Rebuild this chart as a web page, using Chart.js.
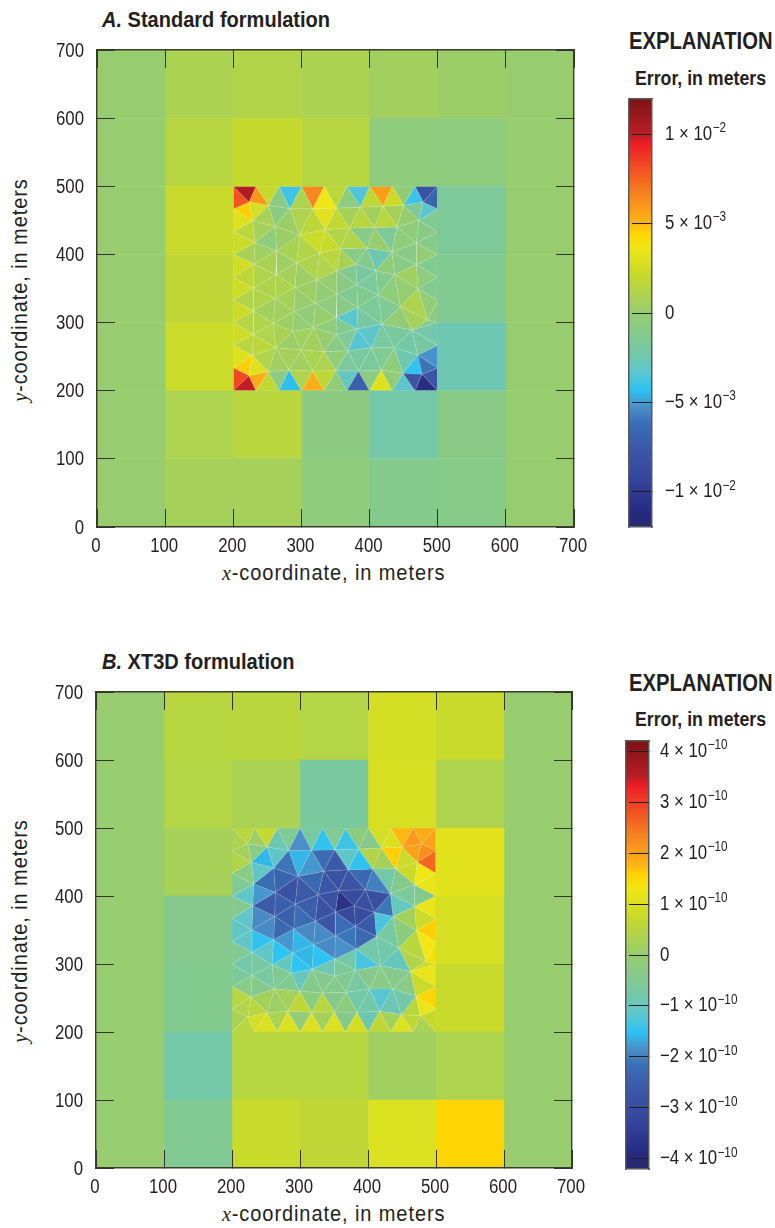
<!DOCTYPE html>
<html>
<head>
<meta charset="utf-8">
<title>Error maps</title>
<script src="https://cdn.jsdelivr.net/npm/chart.js@4/dist/chart.umd.min.js"></script>
<style>
  html, body { margin: 0; padding: 0; background: #fff; }
  body { position: relative; width: 775px; height: 1228px; overflow: hidden; font-family: "Liberation Sans", sans-serif; color: #231f20; }
  canvas { position: absolute; }
  .t { position: absolute; white-space: nowrap; line-height: 1; transform-origin: left center; }
  .title { font-size: 22px; font-weight: bold; transform: scaleX(0.91); }
  .head { font-size: 23px; font-weight: bold; transform: scaleX(0.88); }
  .sub { font-size: 20px; font-weight: bold; transform: scaleX(0.886); }
  .ax { font-size: 22px; letter-spacing: 1px; transform: scaleX(0.91); }
  .ay { font-size: 22px; letter-spacing: 1px; transform-origin: center center; transform: translate(-50%,-50%) rotate(-90deg) scaleX(0.91); }
  .ax i, .ay i { font-family: "Liberation Serif", serif; }
</style>
</head>
<body>
<div class="t title" style="left:102px;top:9px"><i>A.</i> Standard formulation</div>
<div class="t title" style="left:102px;top:651px"><i>B.</i> XT3D formulation</div>
<div class="t head" style="left:629px;top:30px">EXPLANATION</div>
<div class="t head" style="left:629px;top:672px">EXPLANATION</div>
<div class="t sub" style="left:635px;top:68px">Error, in meters</div>
<div class="t sub" style="left:635px;top:709px">Error, in meters</div>
<div class="t ax" style="left:222px;top:562px"><i>x</i>-coordinate, in meters</div>
<div class="t ax" style="left:222px;top:1203px"><i>x</i>-coordinate, in meters</div>
<div class="t ay" style="left:20px;top:290px"><i>y</i>-coordinate, in meters</div>
<div class="t ay" style="left:20px;top:931px"><i>y</i>-coordinate, in meters</div>

<canvas id="mapA" width="600" height="530" style="left:0;top:30px"></canvas>
<canvas id="mapB" width="600" height="530" style="left:0;top:672px"></canvas>
<canvas id="barA" width="160" height="448" style="left:615px;top:89px"></canvas>
<canvas id="barB" width="160" height="448" style="left:612px;top:731px"></canvas>

<script>
var axisTicks = [0, 100, 200, 300, 400, 500, 600, 700];

// coarse cells, rows from y=0 upward; null = the refined block in the middle
var cellsA = [
  [0, 0.6, 0.6, -0.5, -1.2, -1.0, 0],
  [0, 1.0, 1.5, -0.7, -2.2, -0.9, 0],
  [0, 2.2, null, null, null, -2.5, 0],
  [0, 1.7, null, null, null, -1.4, 0],
  [0, 2.1, null, null, null, -1.6, 0],
  [0, 1.4, 2.0, 1.4, -0.5, -0.6, 0],
  [0, 0.9, 1.2, 0.9, 0.5, 0.2, 0]
];
var cellsB = [
  [0, -0.5, 0.75, 0.6, 1.0, 1.55, 0],
  [0, -0.8, 0.5, 0.5, 0.15, 0.35, 0],
  [0, -0.45, null, null, null, 0.75, 0],
  [0, -0.4, null, null, null, 0.95, 0],
  [0, 0.25, null, null, null, 1.1, 0],
  [0, 0.45, 0.3, -0.65, 0.95, 0.35, 0],
  [0, 0.5, 0.55, 0.45, 0.9, 0.75, 0]
];

// triangle mesh nodes, in meters
var nodes = {
  T0:[200,500],T1:[233.3,500],T2:[266.7,500],T3:[300,500],T4:[333.3,500],T5:[366.7,500],T6:[400,500],T7:[433.3,500],T8:[466.7,500],T9:[500,500],
  L1:[200,466.7],L2:[200,433.3],L3:[200,400],L4:[200,366.7],L5:[200,333.3],L6:[200,300],L7:[200,266.7],L8:[200,233.3],
  R1:[500,466.7],R2:[500,433.3],R3:[500,400],R4:[500,366.7],R5:[500,333.3],R6:[500,300],R7:[500,266.7],R8:[500,233.3],
  B0:[200,200],B1:[233.3,200],B2:[266.7,200],B3:[300,200],B4:[333.3,200],B5:[366.7,200],B6:[400,200],B7:[433.3,200],B8:[466.7,200],B9:[500,200],
  a1:[223,477],a2:[251.5,472.1],a3:[283.3,467.2],a4:[316.7,467.2],a5:[351,468.1],a6:[386.3,469.1],a7:[419.6,470.6],a8:[450,472.1],a9:[478.4,477],
  b1:[228.4,449.5],b2:[261.3,441.2],b3:[297.1,428.9],b4:[334.8,436.3],b5:[370.6,438.7],b6:[406.9,439.7],b7:[440.2,440.2],b8:[472.1,450],
  c1:[231.9,417.6],c2:[263.7,405.4],c3:[293.1,388.2],c4:[326.5,402],c5:[356.9,408.3],c6:[396.1,409.3],c7:[432.8,403.4],c8:[468.6,416.7],
  d1:[230.4,385.8],d2:[262.7,370.1],d3:[322.5,362.7],d4:[352,376.5],d5:[379.9,385.8],d6:[409.3,376],d7:[436.8,370.1],d8:[468.6,384.8],
  e1:[229.4,350.5],e2:[261.3,335.8],e3:[290.7,351.5],e4:[320.1,328.4],e5:[352,341.7],e6:[381.4,355.4],e7:[412.3,340.7],e8:[471.1,349.5],
  f1:[229.4,317.2],f2:[258.8,299],f3:[289.2,316.2],f4:[317.6,292.6],f5:[351,307.3],f6:[382.4,322.1],f7:[445.1,323.5],f8:[485.3,303.9],f9:[418.1,297.5],f10:[381.4,290.7],f11:[351,281.9],f12:[462.3,289.2],f13:[229.4,282.8],
  g1:[227.9,251.5],g2:[262.3,263.2],g3:[286.8,286.8],g4:[299.5,259.8],g5:[333.3,257.4],g6:[368.1,258.3],g7:[402.5,263.2],g8:[436.3,263.2],g9:[470.6,252.5],
  h1:[223,222.1],h2:[251.5,228],h3:[281.9,230.4],h4:[316.7,228.9],h5:[350.5,229.4],h6:[383.8,228.9],h7:[417.2,230.4],h8:[449,225.5],h9:[477,224]
};

var triangles = [
  'T0 T1 a1','T0 a1 L1','T1 a2 a1','T1 T2 a2','T2 a3 a2','T2 T3 a3','T3 a4 a3','T3 T4 a4','T4 a5 a4','T4 T5 a5','T5 a6 a5','T5 T6 a6','T6 a7 a6','T6 T7 a7','T7 a8 a7','T7 T8 a8','T8 a9 a8','T8 T9 a9','T9 R1 a9',
  'L1 a1 b1','a1 a2 b1','L1 b1 L2','b1 a2 b2','a2 a3 b2','a3 b3 b2','a3 a4 b3','a4 b4 b3','a4 a5 b4','a5 b5 b4','a5 a6 b5','a6 b6 b5','a6 a7 b6','a7 b7 b6','a7 a8 b7','a8 b8 b7','a8 a9 b8','a9 R1 b8','R1 R2 b8',
  'L2 b1 c1','b1 b2 c1','L2 c1 L3','c1 b2 c2','b2 b3 c2','c2 b3 c3','b3 c4 c3','b3 b4 c4','b4 c5 c4','b4 b5 c5','b5 c6 c5','b5 b6 c6','b6 c7 c6','b6 b7 c7','b7 c8 c7','b7 b8 c8','b8 R2 c8','R2 R3 c8',
  'L3 c1 d1','c1 c2 d1','L3 d1 L4','d1 c2 d2','c2 c3 d2','c3 c4 d3','c4 d4 d3','c4 c5 d4','c5 d5 d4','c5 c6 d5','c6 d6 d5','c6 c7 d6','c7 d7 d6','c7 d8 d7','c7 c8 d8','c8 R3 d8','R3 R4 d8',
  'L4 d1 e1','d1 d2 e1','L4 e1 L5','e1 d2 e2','d2 e3 e2','d2 c3 e3','c3 d3 e3','d3 e4 e3','d3 e5 e4','d3 d4 e5','d4 e6 e5','d4 d5 e6','d5 d6 e6','e6 d6 e7','d6 d7 e7','e7 d7 f7','d7 e8 f7','d7 d8 e8','d8 R4 e8','R4 R5 e8','e8 R5 f8','f7 e8 f8','R5 R6 f8',
  'L5 e1 f1','e1 e2 f1','L5 f1 L6','L6 f1 f13','f1 e2 f2','f1 f2 f13','e2 f3 f2','e2 e3 f3','e3 e4 f3','f3 f4 g3','f3 e4 f4','e4 f5 f4','e4 e5 f5','e5 f6 f5','e5 e6 f6','e6 e7 f6','f6 e7 f9','e7 f7 f9','f9 f7 f12','f7 f8 f12','f8 R6 f12','f12 R6 R7','f12 R7 g9','R7 R8 g9','g9 R8 h9','R8 B9 h9',
  'h9 B9 B8','h8 h9 B8','B7 h8 B8','h7 h8 B7','B6 h7 B7','h6 h7 B6','B5 h6 B6','h5 h6 B5','B4 h5 B5','h4 h5 B4','B3 h4 B4','h3 h4 B3','B2 h3 B3','h2 h3 B2','B1 h2 B2','h1 h2 B1','B0 h1 B1','L8 h1 B0','L8 g1 h1','h1 g1 h2','L7 g1 L8',
  'g1 g2 h2','h2 g2 h3','g2 g4 h3','h3 g4 h4','g4 g5 h4','h4 g5 h5','g5 g6 h5','h5 g6 h6','g6 g7 h6','h6 g7 h7','g7 g8 h7','h7 g8 h8','g8 g9 h8','h8 g9 h9',
  'L6 f13 L7','L7 f13 g1','f13 g2 g1','f13 f2 g2','f2 g3 g2','g2 g3 g4','g3 f4 g4','f4 g5 g4','f4 f11 g5','f11 g6 g5','f11 f10 g6','f10 g7 g6','f10 f9 g7','f9 g8 g7','f9 f12 g8','g8 f12 g9','f5 f6 f10','f6 f9 f10','f5 f10 f11','f4 f5 f11','f3 g3 f2'
];

// errors in units of 1e-3 m, same order as triangles
var errorsA = [
  10.3,8.0,6.0,2.0,-0.9,-3.9,1.0,6.5,3.6,1.6,-0.6,-3.6,1.7,5.8,2.3,-0.4,-4.0,-8.0,-6.8,
  4.6,2.6,3.0,0.7,-0.8,0.2,1.0,1.6,3.1,1.9,0.6,1.4,0.5,1.5,0.6,0,-1.7,-3.3,-1.5,
  1.6,0.6,2.2,-0.6,0.2,0.8,1.2,2.2,2.1,1.2,1.2,-1.0,0,-1.6,-0.5,-0.5,-0.9,-1.0,
  0.8,0.4,2.5,0.8,0.3,1.0,1.1,1.5,0.8,-0.9,-1.2,-2.5,-0.4,-0.9,-0.9,-0.2,-1.4,
  1.7,1.1,2.4,1.0,1.0,0.6,0.3,0.3,-0.3,0,-0.9,-1.3,-2.0,-1.8,-1.3,-0.5,-0.1,0.4,-0.6,-1.3,-0.3,1.0,-0.7,
  1.2,1.1,2.3,1.3,0.5,1.1,0.5,0.6,0,-0.2,-0.3,0,-0.5,-0.9,-1.4,-1.3,-1.6,-1.5,-0.3,0.6,-1.0,-2.3,-2.1,-5.2,-6.0,-7.8,
  -11,-7.8,-3.2,-0.3,3.0,-0.7,-7.0,-2.9,-0.3,1.7,5.3,1.0,-4.4,-0.7,1.8,5.4,9.9,8.3,4.6,3.0,3.0,
  1.1,0.4,0.6,0.5,0.9,1.0,-0.4,-1.8,-1.9,-1.8,-1.4,-0.5,-2.5,-4.2,
  2.4,1.5,1.6,1.1,0.8,0.2,0.5,0.5,0,-0.9,-1.5,-3.4,-3.2,-2.0,-1.9,-2.1,-3.3,-2.0,-1.4,-0.4,0.3
];

// errors in units of 1e-10 m
var errorsB = [
  0.5,0.3,0.1,0.7,-0.9,-0.5,-1.85,-0.7,-1.5,-0.5,-1.4,-0.2,-0.4,0.9,1.0,1.75,2.1,1.9,2.0,
  0.2,-0.3,0.4,-1.6,-1.1,-2.1,-1.6,-1.8,-2.2,-2.6,-1.1,-1.5,0.4,0.2,1.6,0.8,2.0,2.2,2.6,
  -0.3,-1.1,-0.5,-2.2,-2.4,-2.8,-2.6,-2.3,-2.7,-2.8,-2.75,-2.3,-2.0,-0.8,-0.4,0.8,1.3,1.2,
  -1.1,-1.8,-0.4,-2.6,-2.5,-2.5,-2.8,-2.8,-3.7,-3.1,-2.9,-2.9,-2.1,-1.0,-0.6,-0.4,1.2,
  -1.1,-1.9,-1.1,-1.9,-2.3,-2.5,-2.2,-1.9,-1.9,-2.7,-2.2,-3.1,-3.0,-2.6,-1.3,-0.7,-0.2,0.2,0.8,1.6,1.3,0.5,1.4,
  -1.1,-1.5,-0.5,-0.8,-1.1,-0.7,-1.5,-1.8,-1.6,-1.5,-1.6,-1.5,-1.9,-1.85,-2.1,-2.3,-0.8,-0.8,-1.0,0.4,0.8,1.2,0.8,1.55,1.2,0.7,
  0.3,0.6,1.0,0.2,0.6,-0.9,0.9,-0.4,1.0,0.2,1.0,-0.1,1.0,0.3,1.0,0.9,0.5,0.3,0.4,0.5,0.5,
  0.2,0.1,0.2,0.6,-0.2,0.5,-0.4,-0.2,-0.8,-0.8,-1.2,-0.9,-0.8,0.5,
  -0.6,-0.3,-0.4,-0.7,-0.5,-0.5,-1.0,-0.4,-0.4,-0.4,-0.5,-0.7,-0.4,-0.3,-0.4,-0.3,-0.8,-1.3,-0.6,-0.9,-1.0
];

var barRangeA = 11.96;
var barRangeB = 4.2;
var barTicksA = [10, 5, 0, -5, -10];
var barTicksB = [4, 3, 2, 1, 0, -1, -2, -3, -4];
var barLabelsA = ['1 × 10', '5 × 10', '0', '−5 × 10', '−1 × 10'];
var barLabelsB = ['4 × 10', '3 × 10', '2 × 10', '1 × 10', '0', '−1 × 10', '−2 × 10', '−3 × 10', '−4 × 10'];
var barExpA = ['−2', '−3', '', '−3', '−2'];
var barExpB = ['−10', '−10', '−10', '−10', '', '−10', '−10', '−10', '−10'];

var colorStops = [
  [0, '#2a2a72'], [0.033, '#262a7e'], [0.11, '#34459b'], [0.173, '#3b54a4'], [0.243, '#3a6fb5'],
  [0.28, '#4a90c8'], [0.32, '#2cc3f2'], [0.36, '#5bc6d0'], [0.406, '#74c8a8'], [0.5, '#97cd6f'],
  [0.584, '#c5d92d'], [0.654, '#f0e714'], [0.687, '#ffd400'], [0.71, '#ffb515'], [0.78, '#f58220'],
  [0.897, '#ed1c24'], [0.918, '#b81e25'], [1, '#7b1315']
];

var fontName = '"Liberation Sans", sans-serif';
var inkColor = '#231f20';
var frameColor = '#3a3d2c';
var narrow = 0.84; // no condensed face installed, squeeze the labels instead

function hexToRgb(h) {
  return [parseInt(h.substr(1, 2), 16), parseInt(h.substr(3, 2), 16), parseInt(h.substr(5, 2), 16)];
}

function colorFor(v, range) {
  var t = Math.min(1, Math.max(0, 0.5 + v / (2 * range)));
  for (var i = 1; i < colorStops.length; i++) {
    if (t <= colorStops[i][0]) {
      var a = colorStops[i - 1], b = colorStops[i];
      var k = (t - a[0]) / (b[0] - a[0]);
      var ca = hexToRgb(a[1]), cb = hexToRgb(b[1]);
      return 'rgb(' + ca.map(function (c, j) { return Math.round(c + (cb[j] - c) * k); }).join(',') + ')';
    }
  }
  return colorStops[colorStops.length - 1][1];
}

function polygon(points, color, edge) {
  return {
    data: points.concat([points[0]]).map(function (p) { return { x: p[0], y: p[1] }; }),
    showLine: true,
    fill: 'shape',
    backgroundColor: color,
    borderColor: edge || color,
    borderWidth: edge ? 0.7 : 0.5,
    pointRadius: 0,
    tension: 0
  };
}

function mapDatasets(cells, errors, range) {
  var sets = [];
  cells.forEach(function (row, r) {
    row.forEach(function (v, c) {
      if (v === null) return;
      var x0 = axisTicks[c], x1 = axisTicks[c + 1], y0 = axisTicks[r], y1 = axisTicks[r + 1];
      sets.push(polygon([[x0, y0], [x1, y0], [x1, y1], [x0, y1]], colorFor(v, range)));
    });
  });
  triangles.forEach(function (tri, i) {
    var pts = tri.split(' ').map(function (n) { return nodes[n]; });
    sets.push(polygon(pts, colorFor(errors[i], range), 'rgba(236,244,222,0.16)'));
  });
  return sets;
}

function fixedSize(prop, size) {
  return function (scale) { scale[prop] = size; };
}

function squeezedText(ctx, text, x, y, align) {
  ctx.save();
  ctx.translate(x, y);
  ctx.scale(narrow, 1);
  ctx.textAlign = align;
  ctx.textBaseline = 'middle';
  ctx.fillText(text, 0, 0);
  ctx.restore();
}

// axis numbers, drawn from the scales so they can be squeezed
var mapLabelPlugin = {
  id: 'mapLabels',
  afterDraw: function (chart) {
    var ctx = chart.ctx, area = chart.chartArea;
    ctx.save();
    ctx.fillStyle = inkColor;
    ctx.font = '20px ' + fontName;
    axisTicks.forEach(function (v) {
      squeezedText(ctx, String(v), chart.scales.x.getPixelForValue(v) - 1, area.bottom + 19, 'center');
      squeezedText(ctx, String(v), area.left - 13, chart.scales.y.getPixelForValue(v) + 1, 'right');
    });
    ctx.restore();
  }
};

function mapAxis(position, fit) {
  return {
    type: 'linear',
    position: position,
    min: 0,
    max: 700,
    afterFit: fit,
    afterBuildTicks: function (scale) {
      scale.ticks = axisTicks.map(function (v) { return { value: v }; });
    },
    grid: { drawOnChartArea: false, drawTicks: true, tickLength: -18, tickColor: '#333333', tickWidth: 1, z: 1 },
    border: { display: true, color: frameColor, width: 1.4, z: 1 },
    ticks: { display: false }
  };
}

function drawMap(id, cells, errors, range, leftGap, rightGap, bottomGap) {
  new Chart(document.getElementById(id).getContext('2d'), {
    type: 'scatter',
    data: { datasets: mapDatasets(cells, errors, range) },
    plugins: [mapLabelPlugin],
    options: {
      responsive: false,
      animation: false,
      events: [],
      layout: { padding: { top: 20, right: rightGap, left: 0, bottom: 0 } },
      plugins: { legend: { display: false }, tooltip: { enabled: false } },
      scales: {
        x: mapAxis('bottom', fixedSize('height', bottomGap)),
        y: mapAxis('left', fixedSize('width', leftGap)),
        xTop: mapAxis('top', fixedSize('height', 0)),
        yRight: mapAxis('right', fixedSize('width', 0))
      }
    }
  });
}

// colorbar labels with their superscripts
var barLabelPlugin = {
  id: 'barLabels',
  afterDraw: function (chart, args, opts) {
    var ctx = chart.ctx, scale = chart.scales.y, x = chart.chartArea.right + opts.gap;
    ctx.save();
    ctx.fillStyle = inkColor;
    opts.values.forEach(function (v, i) {
      var y = scale.getPixelForValue(v);
      ctx.font = '20px ' + fontName;
      squeezedText(ctx, opts.labels[i], x, y, 'left');
      var w = ctx.measureText(opts.labels[i]).width * narrow;
      if (opts.exps[i]) {
        ctx.font = '14px ' + fontName;
        squeezedText(ctx, opts.exps[i], x + w + 0.5, y - 6, 'left');
      }
    });
    ctx.restore();
  }
};

function edgeAxis(position, prop) {
  return {
    display: true,
    position: position,
    afterFit: fixedSize(prop, 0),
    grid: { display: true, drawOnChartArea: false, drawTicks: false },
    border: { display: true, color: '#58595b', width: 1.5, z: 1 },
    ticks: { display: false }
  };
}

function drawBar(id, range, values, labels, exps, gap) {
  var left = edgeAxis('left', 'width');
  left.type = 'linear';
  left.min = -range;
  left.max = range;
  new Chart(document.getElementById(id).getContext('2d'), {
    type: 'bar',
    data: {
      labels: ['Error'],
      datasets: [{
        data: [[-range, range]],
        barPercentage: 1,
        categoryPercentage: 1,
        borderWidth: 0,
        backgroundColor: function (c) {
          var area = c.chart.chartArea;
          if (!area) return '#97cd6f';
          var g = c.chart.ctx.createLinearGradient(0, area.bottom, 0, area.top);
          colorStops.forEach(function (s) { g.addColorStop(s[0], s[1]); });
          return g;
        }
      }]
    },
    plugins: [barLabelPlugin],
    options: {
      responsive: false,
      animation: false,
      events: [],
      layout: { padding: { top: 10, bottom: 10, left: 14, right: 0 } },
      plugins: {
        legend: { display: false },
        tooltip: { enabled: false },
        barLabels: { values: values, labels: labels, exps: exps, gap: gap }
      },
      scales: {
        x: edgeAxis('top', 'height'),
        xLow: edgeAxis('bottom', 'height'),
        yLeft: left,
        y: {
          type: 'linear',
          position: 'right',
          min: -range,
          max: range,
          afterFit: fixedSize('width', 160 - 14 - 23),
          afterBuildTicks: function (scale) {
            scale.ticks = values.map(function (v) { return { value: v }; });
          },
          grid: { drawOnChartArea: false, tickLength: -20, tickColor: '#231f20', tickWidth: 1, z: 1 },
          border: { display: true, color: '#58595b', width: 1.5, z: 1 },
          ticks: { display: false }
        }
      }
    }
  });
}

drawMap('mapA', cellsA, errorsA, barRangeA, 97, 26, 33);
drawMap('mapB', cellsB, errorsB, barRangeB, 96, 28, 34);
drawBar('barA', barRangeA, barTicksA, barLabelsA, barExpA, 13);
drawBar('barB', barRangeB, barTicksB, barLabelsB, barExpB, 11);
</script>
</body>
</html>
